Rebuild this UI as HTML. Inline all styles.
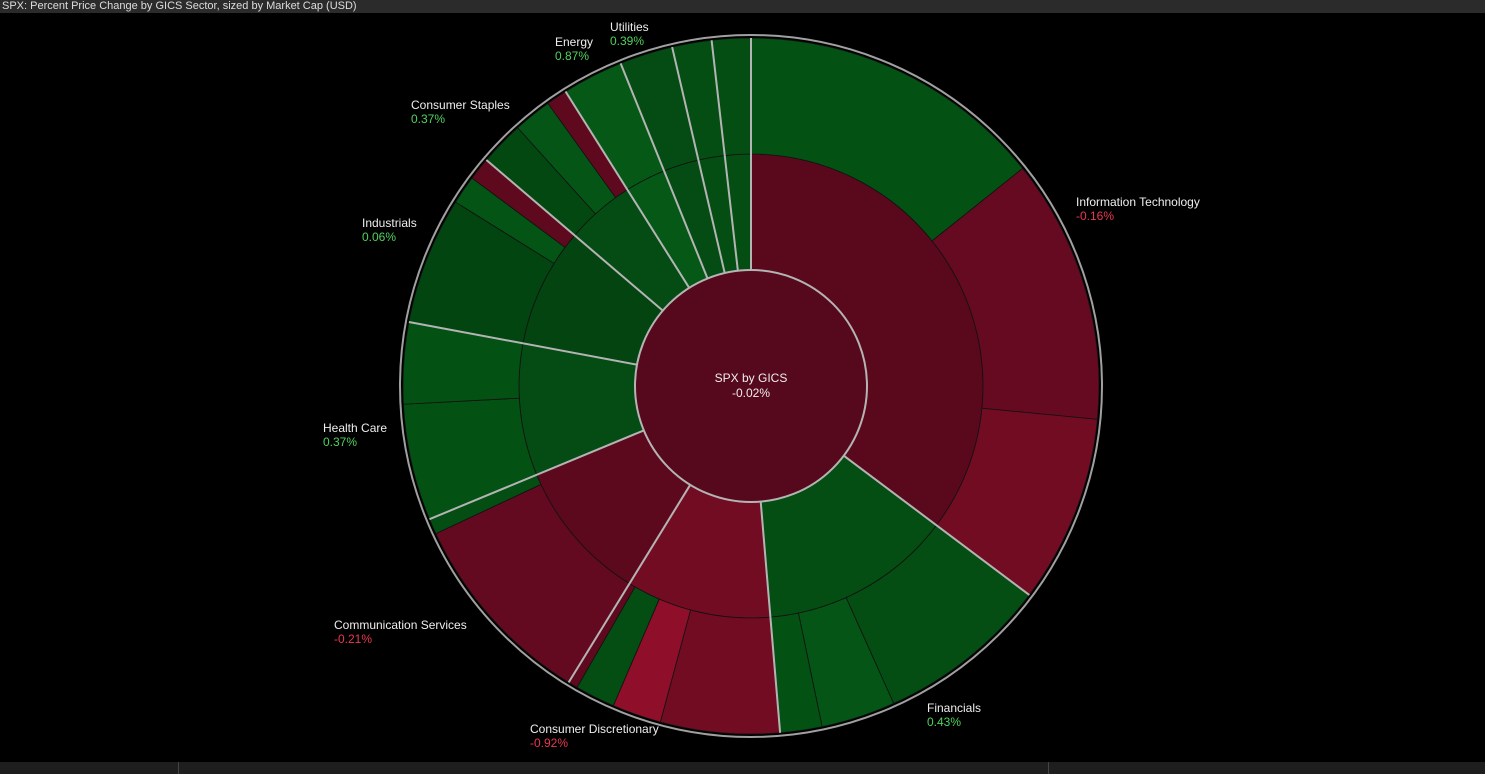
<!DOCTYPE html>
<html><head><meta charset="utf-8">
<style>
html,body{margin:0;padding:0;background:#000;width:1485px;height:774px;overflow:hidden;font-family:"Liberation Sans",sans-serif;}
#title{position:absolute;left:0;top:0;width:1485px;height:13px;background:#2b2b2b;color:#ddd;font-size:11px;line-height:13px;padding-left:2px;box-sizing:border-box;}
#foot{position:absolute;left:0;top:762px;width:1485px;height:12px;background:#1e1e1e;}
.div{position:absolute;top:762px;width:1px;height:12px;background:#444;}
svg{position:absolute;left:0;top:0;}
text{font-family:"Liberation Sans",sans-serif;font-size:12px;}
</style></head><body>
<div id="title">SPX: Percent Price Change by GICS Sector, sized by Market Cap (USD)</div>
<div id="foot"></div>
<div class="div" style="left:178px"></div>
<div class="div" style="left:1048px"></div>
<svg id="chart" width="1485" height="774"></svg>
<script>
const sectorNames=["Information Technology","Financials","Consumer Discretionary","Communication Services","Health Care","Industrials","Consumer Staples","Energy","Utilities","Materials","Real Estate"];
const sectorWeights=[126.9,48.3,36.4,35.9,33.1,29.9,17.3,10.2,8.9,6.6,6.5];
const sectorChanges=[-0.16,0.43,-0.92,-0.21,0.37,0.06,0.37,0.87,0.39,0.40,0.45];
const subWeights=[[51.3,44.2,31.4],[28.9,12.4,7.0],[19.9,8.2,6.7,1.6],[33.3,2.6],[19.5,13.6],[21.3,4.8,3.8],[7.4,6.4,3.5],[10.2],[8.9],[6.6],[6.5]];
const subChanges=[[0.6,-0.5,-0.9],[0.45,0.8,0.6],[-0.9,-1.8,0.4,-0.3],[-0.45,0.4],[0.6,0.6],[0.1,0.7,-0.3],[0.2,0.8,-0.3],[0.87],[0.39],[0.4],[0.45]];
const totalChange=-0.02;
const labelSectors=[0,1,2,3,4,5,6,7,8];

const NS="http://www.w3.org/2000/svg";
const svg=document.getElementById('chart');
const cx=751,cy=386,r0=116,r1=232,r2=348,rB=351;
const total=sectorWeights.reduce((a,b)=>a+b,0);
function ang(w){return w/total*2*Math.PI;}
function pt(r,a){return [cx+r*Math.sin(a),cy-r*Math.cos(a)];}
function color(c){
  if(c<0){const t=Math.min(-c/2,1);return `rgb(${Math.round(0x55+t*64)},${Math.round(8+t*8)},${Math.round(0x1c+t*16)})`;}
  const t=Math.min(c,1);return `rgb(${Math.round(3+t*2)},${Math.round(0x43+t*24)},${Math.round(0x10+t*7)})`;
}
function arc(ri,ro,a0,a1,fill,name){
  const p=document.createElementNS(NS,'path');
  const [x0,y0]=pt(ro,a0),[x1,y1]=pt(ro,a1),[x2,y2]=pt(ri,a1),[x3,y3]=pt(ri,a0);
  const lg=(a1-a0)>Math.PI?1:0;
  p.setAttribute('d',`M${x0},${y0}A${ro},${ro} 0 ${lg} 1 ${x1},${y1}L${x2},${y2}A${ri},${ri} 0 ${lg} 0 ${x3},${y3}Z`);
  p.setAttribute('fill',fill);p.setAttribute('stroke','#111');p.setAttribute('stroke-width','0.8');
  
  
  svg.appendChild(p);
}
let a=0;const bounds=[];
sectorWeights.forEach((w,i)=>{
  const a1=a+ang(w);
  arc(r0,r1,a,a1,color(sectorChanges[i]),'sector-'+i);
  const sw=subWeights[i],st=sw.reduce((x,y)=>x+y,0);let b=a;
  sw.forEach((v,j)=>{const b1=b+(a1-a)*v/st;arc(r1,r2,b,b1,color(subChanges[i][j]),'sub-industry-'+i+'-'+j);b=b1;});
  bounds.push(a);a=a1;
});
bounds.forEach(b=>{
  const l=document.createElementNS(NS,'line');
  const [x0,y0]=pt(r0,b),[x1,y1]=pt(r2,b);
  l.setAttribute('x1',x0);l.setAttribute('y1',y0);l.setAttribute('x2',x1);l.setAttribute('y2',y1);
  l.setAttribute('stroke','#b4b4b4');l.setAttribute('stroke-width','2');
  
  
  svg.appendChild(l);
});
const c=document.createElementNS(NS,'circle');
c.setAttribute('cx',cx);c.setAttribute('cy',cy);c.setAttribute('r',r0);
c.setAttribute('fill',color(totalChange));c.setAttribute('stroke','#b4b4b4');c.setAttribute('stroke-width','2');


svg.appendChild(c);
const o=document.createElementNS(NS,'circle');
o.setAttribute('cx',cx);o.setAttribute('cy',cy);o.setAttribute('r',rB);
o.setAttribute('fill','none');o.setAttribute('stroke','#a0a0a0');o.setAttribute('stroke-width','2');


svg.appendChild(o);
function txt(x,y,s,fill,anchor,name){
  const t=document.createElementNS(NS,'text');
  t.setAttribute('x',x);t.setAttribute('y',y);t.setAttribute('fill',fill);
  if(anchor)t.setAttribute('text-anchor',anchor);
  t.textContent=s;
  
  
  svg.appendChild(t);
}
function fmt(v){return v.toFixed(2)+'%';}
function vcol(v){return v<0?'#e8394f':'#4ed35c';}
txt(cx,382,'SPX by GICS','#eee','middle','center-label');
txt(cx,397,fmt(totalChange),'#eee','middle','center-value');
const labelPos=[[1076,206],[927,712],[530,733],[334,629],[323,432],[362,227],[411,109],[555,46],[610,31]];
labelSectors.forEach((s,k)=>{
  const [x,y]=labelPos[k];
  txt(x,y,sectorNames[s],'#eee',null,'sector-label');
  txt(x,y+14,fmt(sectorChanges[s]),vcol(sectorChanges[s]),null,'sector-value');
});
</script>
</body></html>
